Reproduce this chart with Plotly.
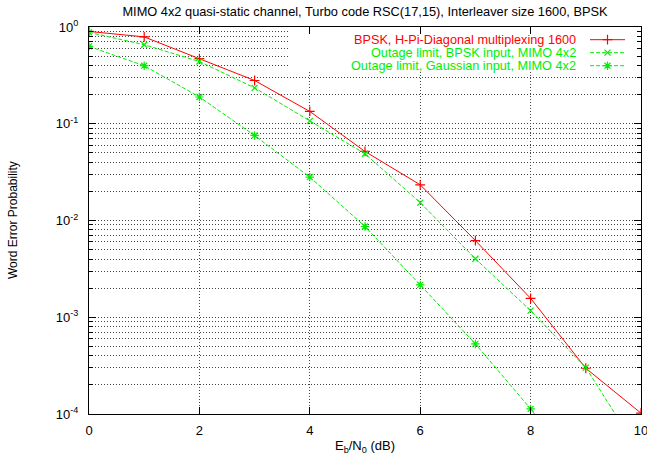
import plotly.graph_objects as go

# ---------------- data ----------------
snr_db = [0, 1, 2, 3, 4, 5, 6, 7, 8, 9, 10]
wep_hpi = [0.90, 0.79, 0.47, 0.28, 0.134, 0.0517, 0.0234, 0.0062, 0.00157, 0.000297, 0.000102]
wep_out_bpsk = [0.88, 0.656, 0.44, 0.235, 0.107, 0.049, 0.0153, 0.00402, 0.00117, 0.000302, 0.000038]
snr_db_gauss = [0, 1, 2, 3, 4, 5, 6, 7, 8, 9]
wep_out_gauss = [0.63, 0.398, 0.189, 0.0757, 0.0281, 0.00867, 0.00216, 0.00053, 0.000113, 0.000020]

series_names = [
    "BPSK, H-Pi-Diagonal multiplexing 1600",
    "Outage limit, BPSK input, MIMO 4x2",
    "Outage limit, Gaussian input, MIMO 4x2",
]
x_tick_vals = [0, 2, 4, 6, 8, 10]
x_tick_text = ["0", "2", "4", "6", "8", "10"]
y_tick_vals = [1, 0.1, 0.01, 0.001, 0.0001]
y_tick_text = ["10<sup>0</sup>", "10<sup>-1</sup>", "10<sup>-2</sup>", "10<sup>-3</sup>", "10<sup>-4</sup>"]
y_minor_vals = [m * 10.0 ** e for e in range(-4, 0) for m in range(2, 10)]

title_text = "MIMO 4x2 quasi-static channel, Turbo code RSC(17,15), Interleaver size 1600, BPSK"
x_label = "E<sub>b</sub>/N<sub>0</sub> (dB)"
y_label = "Word Error Probability"

# ---------------- style ----------------
RED = "#ff0000"
GREEN = "#00ee00"
FONT = "Liberation Sans"
GRID = "#444444"
GRIDDASH = "1px,2px"
GDASH = "4px,2px"

W, H = 647, 458
ML, MR, MT, MB = 89, 6, 27, 44
PW, PH = W - ML - MR, H - MT - MB

fig = go.Figure()

fig.add_trace(go.Scatter(
    x=snr_db, y=wep_hpi, mode="lines+markers", name=series_names[0],
    line=dict(color=RED, width=1),
    marker=dict(symbol="cross-thin", size=7, line=dict(color=RED, width=1.2), color=RED),
    showlegend=False,
))
fig.add_trace(go.Scatter(
    x=snr_db, y=wep_out_bpsk, mode="lines+markers", name=series_names[1],
    line=dict(color=GREEN, width=1, dash=GDASH),
    marker=dict(symbol="x-thin", size=6, line=dict(color=GREEN, width=1.2), color=GREEN),
    showlegend=False,
))
fig.add_trace(go.Scatter(
    x=snr_db_gauss, y=wep_out_gauss, mode="lines+markers", name=series_names[2],
    line=dict(color=GREEN, width=1, dash=GDASH),
    marker=dict(symbol="asterisk", size=7, line=dict(color=GREEN, width=1.2), color=GREEN),
    showlegend=False,
))

# ---------------- custom key (gnuplot style: text right, sample on right) ----------------
def px_to_fx(px):
    return (px - ML) / PW

def py_to_fy(py):
    return 1 - (py - MT) / PH

# white key background over the grid (drawn as a filled trace on overlay axes)
bx0, bx1, by0, by1 = px_to_fx(288), 1.0, py_to_fy(72), 1.0
fig.add_trace(go.Scatter(
    x=[bx0, bx1, bx1, bx0, bx0], y=[by0, by0, by1, by1, by0],
    xaxis="x2", yaxis="y2", mode="lines", fill="toself", fillcolor="white",
    line=dict(width=0, color="white"), showlegend=False, hoverinfo="skip",
))

key_rows_py = [39.7, 52.7, 65.7]
key_colors = [RED, GREEN, GREEN]
key_dash = ["solid", GDASH, GDASH]
key_symbols = ["cross-thin", "x-thin", "asterisk"]
key_text_right = 578
key_line = (590, 625)

for i in range(3):
    fy = py_to_fy(key_rows_py[i])
    fig.add_trace(go.Scatter(
        x=[px_to_fx(key_line[0]), px_to_fx(key_line[1])], y=[fy, fy],
        xaxis="x2", yaxis="y2", mode="lines", showlegend=False, hoverinfo="skip",
        line=dict(color=key_colors[i], width=1, dash=key_dash[i]),
    ))
    fig.add_trace(go.Scatter(
        x=[px_to_fx((key_line[0] + key_line[1]) / 2)], y=[fy],
        xaxis="x2", yaxis="y2", mode="markers", showlegend=False, hoverinfo="skip",
        marker=dict(symbol=key_symbols[i], size=7 if i != 1 else 6,
                    line=dict(color=key_colors[i], width=1.2), color=key_colors[i]),
    ))
    fig.add_annotation(
        x=px_to_fx(key_text_right), y=fy, xref="paper", yref="paper",
        text=series_names[i], showarrow=False, xanchor="right", yanchor="middle",
        font=dict(family=FONT, size=12.7, color=key_colors[i]),
    )

# ---------------- axes ----------------
fig.update_layout(
    width=W, height=H,
    margin=dict(l=ML, r=MR, t=MT, b=MB, pad=0, autoexpand=False),
    paper_bgcolor="white", plot_bgcolor="white",
    font=dict(family=FONT, size=12, color="black"),
    title=dict(text=title_text, x=0.5, xref="paper", y=1 - 12 / H, yref="container",
               xanchor="center", yanchor="middle", font=dict(family=FONT, size=12.8)),
    xaxis=dict(
        range=[0, 10], tickvals=x_tick_vals, ticktext=x_tick_text,
        ticks="inside", ticklen=7, tickcolor="black", tickwidth=1,
        showline=True, linecolor="black", linewidth=1, mirror="allticks",
        showgrid=True, gridcolor=GRID, griddash=GRIDDASH, gridwidth=1,
        zeroline=False, tickfont=dict(family=FONT, size=13), ticklabelstandoff=4,
        ticklabeloverflow="allow", automargin=False,
    ),
    yaxis=dict(
        type="log", range=[-4, 0], tickvals=y_tick_vals, ticktext=y_tick_text,
        ticks="inside", ticklen=7, tickcolor="black", tickwidth=1,
        showline=True, linecolor="black", linewidth=1, mirror="allticks",
        showgrid=True, gridcolor=GRID, griddash=GRIDDASH, gridwidth=1,
        zeroline=False, tickfont=dict(family=FONT, size=13), ticklabelstandoff=7,
        ticklabeloverflow="allow", automargin=False,
        minor=dict(tickmode="array", tickvals=y_minor_vals, ticks="inside", ticklen=4,
                   tickcolor="black", showgrid=True, gridcolor=GRID, griddash=GRIDDASH, gridwidth=1),
    ),
    xaxis2=dict(overlaying="x", range=[0, 1], visible=False, fixedrange=True, automargin=False),
    yaxis2=dict(overlaying="y", range=[0, 1], visible=False, fixedrange=True, automargin=False),
)

fig.add_annotation(x=0.5, y=(MT + PH - 446) / PH, xref="paper", yref="paper",
                   text=x_label, showarrow=False, xanchor="center", yanchor="middle",
                   font=dict(family=FONT, size=13))
fig.add_annotation(x=(13 - ML) / PW, y=(MT + PH - 220) / PH, xref="paper", yref="paper",
                   text=y_label, showarrow=False, textangle=-90, xanchor="center", yanchor="middle",
                   font=dict(family=FONT, size=12))

fig.write_html("out.html")
